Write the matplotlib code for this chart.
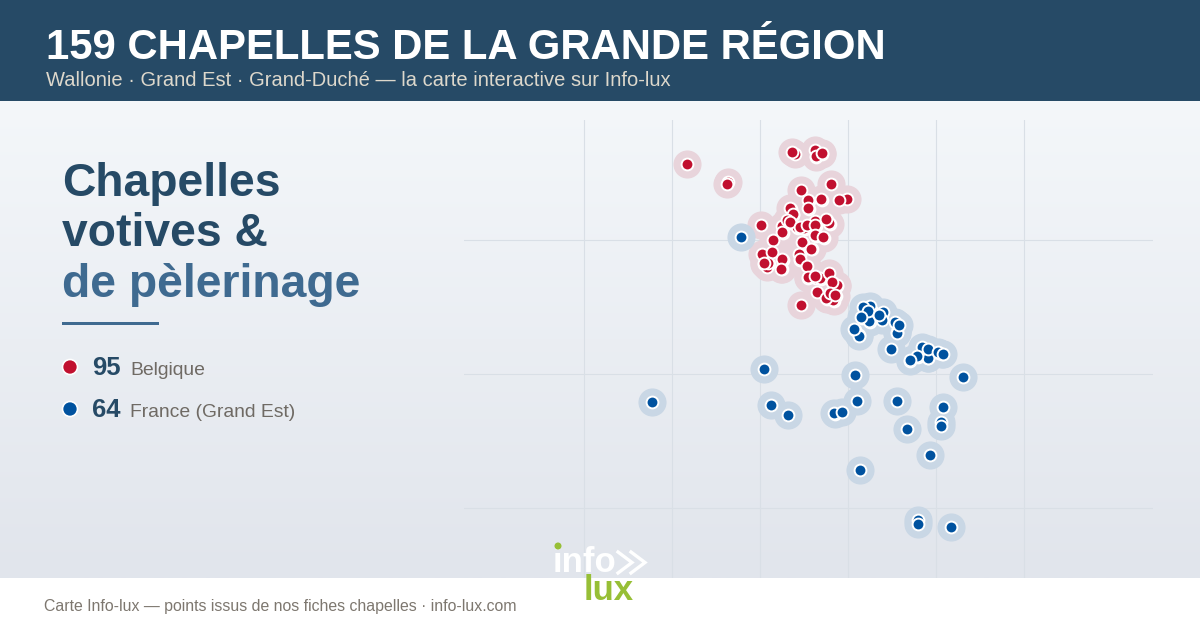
import numpy as np
import matplotlib
matplotlib.use("Agg")
import matplotlib.pyplot as plt
from matplotlib.patches import Rectangle, Circle

# Belgium points (lon, lat), the first 38 sit under the dense clusters
be_lon = [5.56, 5.35, 5.64, 5.26, 5.51, 5.43, 5.35, 5.64, 5.73, 5.55, 5.47, 5.64, 5.76, 5.80, 5.32, 5.26, 5.55, 5.64, 5.69,
          5.83, 5.88, 5.86, 5.81, 5.76, 5.84, 5.05, 5.10, 5.26, 5.25, 5.46, 5.46, 5.49, 5.59, 5.38, 5.64, 5.71, 5.56, 5.70,
          4.17, 4.636, 4.625, 5.398, 5.364, 5.625, 5.636, 5.705, 5.466, 5.807, 5.989, 5.898, 5.693, 5.545, 5.545, 5.341,
          5.375, 5.011, 5.25, 5.625, 5.784, 5.75, 5.307, 5.5, 5.42, 5.25, 5.341, 5.148, 5.455, 5.534, 5.625, 5.625, 5.716,
          5.477, 5.58, 5.023, 5.136, 5.08, 5.091, 5.045, 5.25, 5.239, 5.443, 5.455, 5.534, 5.682, 5.545, 5.625, 5.784,
          5.875, 5.818, 5.648, 5.83, 5.75, 5.795, 5.852, 5.466]
be_lat = [50.23, 50.23, 50.13, 50.09, 50.08, 50.09, 50.125, 50.03, 50.015, 50.10, 50.09, 50.105, 50.15, 50.12, 50.14, 50.05, 49.72, 49.72, 49.71,
          49.68, 49.655, 49.585, 49.60, 49.56, 49.545, 49.82, 49.82, 49.85, 49.78, 49.89, 49.85, 49.98, 49.93, 50.19, 50.62, 50.64, 50.29, 50.30,
          50.567, 50.433, 50.418, 50.642, 50.657, 50.672, 50.627, 50.649, 50.373, 50.418, 50.306, 50.299, 50.306, 50.299, 50.239, 50.239,
          50.194, 50.112, 50.104, 50.142, 50.127, 50.157, 50.149, 50.09, 50.097, 50.06, 50.134, 50.0, 50.097, 50.112, 50.112, 50.037, 50.022,
          49.985, 49.933, 49.896, 49.91, 49.799, 49.828, 49.828, 49.858, 49.784, 49.896, 49.858, 49.806, 49.716, 49.724, 49.731, 49.754,
          49.664, 49.687, 49.612, 49.552, 49.567, 49.604, 49.59, 49.515]

# France points (lon, lat), the first 23 are the hidden ones again
fr_lon = [6.24, 6.18, 6.22, 6.16, 6.25, 6.36, 6.39, 6.39, 6.28, 6.30, 6.08, 6.13, 6.54, 6.57, 6.56, 6.79, 6.85, 6.91, 6.91, 7.03, 7.07, 6.71, 5.85,
          6.25, 6.17, 6.398, 6.386, 6.239, 6.227, 6.352, 6.148, 6.125, 6.068, 6.534, 6.557, 6.58, 6.489, 6.841, 6.909, 6.784, 6.705, 6.909, 7.023, 7.08,
          7.307, 6.08, 3.773, 5.045, 5.125, 5.318, 5.841, 5.932, 6.102, 6.557, 7.08, 7.057, 7.057, 6.67, 6.932, 6.136, 6.795, 6.795, 7.17, 4.784]
fr_lat = [49.50, 49.49, 49.46, 49.42, 49.39, 49.43, 49.41, 49.45, 49.46, 49.44, 49.33, 49.29, 49.38, 49.36, 49.31, 49.13, 49.19, 49.18, 49.12, 49.16, 49.15, 49.10, 48.705,
          49.507, 49.5, 49.463, 49.403, 49.396, 49.47, 49.44, 49.425, 49.284, 49.336, 49.388, 49.306, 49.366, 49.187, 49.201, 49.119, 49.134, 49.104, 49.187, 49.164, 49.149,
          48.978, 48.993, 48.791, 49.037, 48.769, 48.694, 48.709, 48.716, 48.799, 48.799, 48.754, 48.642, 48.612, 48.59, 48.396, 48.284, 47.91, 47.881, 47.858, 50.022]

grid_lon = [3, 4, 5, 6, 7, 8]
grid_lat = [48, 49, 50]

NAVY = "#264a66"
MID = "#3f6a90"
RED = "#c1102f"
BLUE = "#00529f"
GREEN = "#97bf36"
SANS = ["Liberation Sans", "DejaVu Sans"]

fig = plt.figure(figsize=(12, 6.3), dpi=100)

# page layer in pixel coordinates
bg = fig.add_axes([0, 0, 1, 1])
bg.axis("off")
grad = np.linspace(0, 1, 256).reshape(-1, 1)
top = np.array([0xf4, 0xf7, 0xfa]) / 255
bottom = np.array([0xe1, 0xe5, 0xec]) / 255
img = top + grad[..., None] * (bottom - top)
bg.imshow(img, extent=[0, 1200, 578, 101], aspect="auto", zorder=0)
bg.set_xlim(0, 1200)
bg.set_ylim(630, 0)

# map layer
ax = fig.add_axes([464 / 1200, (630 - 578) / 630, (1153 - 464) / 1200, (578 - 120) / 630])
ax.set_xlim(5 + (464 - 760) / 88, 5 + (1153 - 760) / 88)
ax.set_ylim(50 - (578 - 240) / 134, 50 + (240 - 120) / 134)
ax.patch.set_alpha(0)
for s in ax.spines.values():
    s.set_visible(False)
ax.set_xticks(grid_lon)
ax.set_yticks(grid_lat)
ax.tick_params(length=0, labelbottom=False, labelleft=False)
ax.grid(color="#d9dfe6", lw=0.8)
ax.set_axisbelow(True)

ax.scatter(be_lon, be_lat, s=410, color="#e8d4db", lw=0, zorder=2, clip_on=False)
ax.scatter(fr_lon, fr_lat, s=410, color="#c9d7e5", lw=0, zorder=2, clip_on=False)
ax.scatter(be_lon, be_lat, s=72, color=RED, edgecolor="white", lw=1.4, zorder=3, clip_on=False)
ax.scatter(fr_lon, fr_lat, s=72, color=BLUE, edgecolor="white", lw=1.4, zorder=3, clip_on=False)

# header, footer and text on top of the map
over = fig.add_axes([0, 0, 1, 1])
over.set_xlim(0, 1200)
over.set_ylim(630, 0)
over.axis("off")
over.patch.set_alpha(0)
over.add_patch(Rectangle((0, 0), 1200, 101, color=NAVY, lw=0))
over.add_patch(Rectangle((0, 578), 1200, 52, color="white", lw=0))

over.text(46, 59, "159 CHAPELLES DE LA GRANDE RÉGION", family=SANS, weight="bold", fontsize=30.2,
          color="white", va="baseline")
over.text(46, 86, "Wallonie · Grand Est · Grand-Duché — la carte interactive sur Info-lux", family=SANS,
          fontsize=14.48, color="#ddd8cc", va="baseline")

for y, line, col in [(195.5, "Chapelles", NAVY), (246, "votives &", NAVY), (297, "de pèlerinage", MID)]:
    over.text(62, y, line, family=SANS, weight="bold", fontsize=33.3, color=col, va="baseline")
over.add_patch(Rectangle((62, 322), 97, 3, color=MID, lw=0))

for y, col, n, label in [(367, RED, len(be_lon), "Belgique"), (409, BLUE, len(fr_lon), "France (Grand Est)")]:
    over.add_patch(Circle((70, y), 7.5, facecolor=col, edgecolor="white", lw=1.2))
    over.text(92, y + 8, str(n), family=SANS, weight="bold", fontsize=18.5, color=NAVY, va="baseline")
    over.text(130, y + 8, label, family=SANS, fontsize=13.9, color="#6f6a64", va="baseline")

over.text(44, 611, "Carte Info-lux — points issus de nos fiches chapelles · info-lux.com", family=SANS,
          fontsize=11.45, color="#7d776f", va="baseline")

# logo
over.text(553, 572, "info", family=SANS, weight="bold", fontsize=25, color="white", va="baseline")
over.add_patch(Circle((558, 546), 3.5, color=GREEN, lw=0, zorder=5))
for x0 in (618, 631):
    over.plot([x0, x0 + 14, x0], [552, 562.5, 573], color="white", lw=2.4, solid_joinstyle="miter")
over.text(584, 600, "lux", family=SANS, weight="bold", fontsize=25, color=GREEN, va="baseline")
over.set_xlim(0, 1200)
over.set_ylim(630, 0)

fig.savefig("out.png", dpi=100)
